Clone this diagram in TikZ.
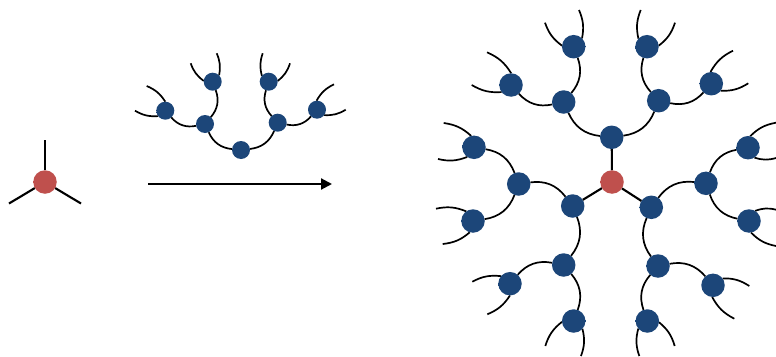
\documentclass[tikz,border=0pt]{standalone}
\usetikzlibrary{arrows.meta}
\pgfdeclarelayer{bg}
\pgfsetlayers{bg,main}
\definecolor{ballB}{HTML}{1C4679}
\definecolor{ballBd}{HTML}{142F55}
\definecolor{ballR}{HTML}{BF504D}
\definecolor{ballRd}{HTML}{8E3B39}
\pgfdeclareradialshading{blueball}{\pgfpoint{0bp}{0bp}}{color(0bp)=(ballB); color(40bp)=(ballB); color(50bp)=(ballBd)}
\pgfdeclareradialshading{redball}{\pgfpoint{0bp}{0bp}}{color(0bp)=(ballR); color(41bp)=(ballR); color(50bp)=(ballRd)}
\tikzset{
  ballnode/.style={circle,inner sep=0pt,outer sep=0pt},
  bluesmall/.style={ballnode,minimum size=18pt,shading=blueball},
  bluebig/.style={ballnode,minimum size=23.5pt,shading=blueball},
  redcore/.style={ballnode,minimum size=23.5pt,shading=redball},
  arm/.style={line width=2.1pt,black},
  curl/.style={line width=1.7pt,black,bend angle=30},
  tipcurl/.style={line width=1.7pt,black,bend angle=17},
  flow/.style={line width=2.1pt,black,-{Triangle[length=11pt,width=11pt]}},
}
\begin{document}
\begin{tikzpicture}[x=1pt,y=-1pt]
\useasboundingbox (0,0) rectangle (776,356);
% monomer
\node[redcore] (m) at (45,182) {};
\coordinate (ma) at (45,140);
\coordinate (mb) at (9,203.5);
\coordinate (mc) at (81,203.5);
% wedge
\node[bluesmall] (A) at (241,150) {};
\node[bluesmall] (B) at (205,124) {};
\node[bluesmall] (C) at (277.7,122.7) {};
\node[bluesmall] (D) at (212.7,81.7) {};
\node[bluesmall] (E) at (165.3,110.7) {};
\node[bluesmall] (F) at (268.7,81.7) {};
\node[bluesmall] (G) at (317,109.7) {};
\coordinate (D1) at (190.7,63.3);
\coordinate (D2) at (216.7,53.3);
\coordinate (F1) at (290,63.3);
\coordinate (F2) at (262.7,53.3);
\coordinate (E1) at (146.7,86);
\coordinate (E2) at (135,110.7);
\coordinate (G1) at (334,84.3);
\coordinate (G2) at (345.7,109.7);
% arrow
\coordinate (aS) at (148,184);
\coordinate (aE) at (332,184);
% dendrimer
\node[redcore] (core) at (612,182) {};
\node[bluebig] (T1) at (611.7,137.3) {};
\node[bluebig] (T2) at (563.7,102) {};
\node[bluebig] (T3) at (658.7,100.7) {};
\node[bluebig] (T4) at (573.7,46.7) {};
\node[bluebig] (T5) at (511,85) {};
\node[bluebig] (T6) at (647,46.7) {};
\node[bluebig] (T7) at (711.3,83.7) {};
\node[bluebig] (L1) at (572.7,206) {};
\node[bluebig] (L2) at (563.7,265) {};
\node[bluebig] (L3) at (518.7,184) {};
\node[bluebig] (L4) at (474,147.3) {};
\node[bluebig] (L5) at (473,221) {};
\node[bluebig] (L6) at (510,283.7) {};
\node[bluebig] (L7) at (573.7,321) {};
\node[bluebig] (R1) at (651.3,207.3) {};
\node[bluebig] (R2) at (658,266) {};
\node[bluebig] (R3) at (706,183.3) {};
\node[bluebig] (R4) at (748,147.7) {};
\node[bluebig] (R5) at (749,221) {};
\node[bluebig] (R6) at (713,285.3) {};
\node[bluebig] (R7) at (647.3,321) {};
\coordinate (T4a) at (545,22.7);
\coordinate (T4b) at (579,10);
\coordinate (T6a) at (675,22.7);
\coordinate (T6b) at (640.7,10);
\coordinate (T5a) at (487,52.3);
\coordinate (T5b) at (471.7,85);
\coordinate (T7a) at (733,50.7);
\coordinate (T7b) at (748.3,83.3);
\coordinate (L4a) at (443.7,123);
\coordinate (L4b) at (438,159);
\coordinate (L5a) at (436,208.7);
\coordinate (L5b) at (442.7,244);
\coordinate (L6a) at (472.3,281.7);
\coordinate (L6b) at (487.3,314.3);
\coordinate (L7a) at (545.3,346);
\coordinate (L7b) at (581,356);
\coordinate (R4a) at (776,122.7);
\coordinate (R4b) at (776,158);
\coordinate (R5a) at (776,209.7);
\coordinate (R5b) at (776,246);
\coordinate (R6a) at (749.3,286);
\coordinate (R6b) at (734.3,318.7);
\coordinate (R7a) at (674.7,346);
\coordinate (R7b) at (639.3,356);
\begin{pgfonlayer}{bg}
\draw[arm] (m) -- (ma);
\draw[arm] (m) -- (mb);
\draw[arm] (m) -- (mc);
\draw[flow] (aS) -- (aE);
\draw[curl] (A) to[bend left] (B);
\draw[curl] (A) to[bend right] (C);
\draw[curl] (B) to[bend right] (D);
\draw[curl] (B) to[bend left] (E);
\draw[curl] (C) to[bend left] (F);
\draw[curl] (C) to[bend right] (G);
\draw[tipcurl] (D.175) to[bend left] (D1);
\draw[tipcurl] (D.45) to[bend right] (D2);
\draw[tipcurl] (F.5) to[bend right] (F1);
\draw[tipcurl] (F.139) to[bend left] (F2);
\draw[tipcurl] (E.90) to[bend right] (E1);
\draw[tipcurl] (E.217) to[bend left] (E2);
\draw[tipcurl] (G.93) to[bend left] (G1);
\draw[tipcurl] (G.-37) to[bend right] (G2);
\draw[arm] (core) -- (T1);
\draw[arm] (core) -- (L1);
\draw[arm] (core) -- (R1);
\draw[curl] (T1) to[bend left] (T2);
\draw[curl] (T1) to[bend right] (T3);
\draw[curl] (T2) to[bend right] (T4);
\draw[curl] (T2) to[bend left] (T5);
\draw[curl] (T3) to[bend left] (T6);
\draw[curl] (T3) to[bend right] (T7);
\draw[tipcurl] (T4.175) to[bend left] (T4a);
\draw[tipcurl] (T4.45) to[bend right] (T4b);
\draw[tipcurl] (T6.5) to[bend right] (T6a);
\draw[tipcurl] (T6.137) to[bend left] (T6b);
\draw[tipcurl] (T5.89) to[bend right] (T5a);
\draw[tipcurl] (T5.217) to[bend left] (T5b);
\draw[tipcurl] (T7.94) to[bend left] (T7a);
\draw[tipcurl] (T7.-37) to[bend right] (T7b);
\draw[curl] (L1) to[bend left] (L2);
\draw[curl] (L1) to[bend right] (L3);
\draw[curl] (L3) to[bend right] (L4);
\draw[curl] (L3) to[bend left] (L5);
\draw[tipcurl] (L4.104) to[bend right] (L4a);
\draw[tipcurl] (L4.235) to[bend left] (L4b);
\draw[tipcurl] (L5.125) to[bend right] (L5a);
\draw[tipcurl] (L5.254) to[bend left] (L5b);
\draw[curl] (L2) to[bend left] (L7);
\draw[curl] (L2) to[bend right] (L6);
\draw[tipcurl] (L6.140) to[bend right] (L6a);
\draw[tipcurl] (L6.270) to[bend left] (L6b);
\draw[tipcurl] (L7.184) to[bend right] (L7a);
\draw[tipcurl] (L7.318) to[bend left] (L7b);
\draw[curl] (R1) to[bend right] (R2);
\draw[curl] (R1) to[bend left] (R3);
\draw[curl] (R3) to[bend left] (R4);
\draw[curl] (R3) to[bend right] (R5);
\draw[tipcurl] (R4.79) to[bend left] (R4a);
\draw[tipcurl] (R4.-57) to[bend right] (R4b);
\draw[tipcurl] (R5.59) to[bend left] (R5a);
\draw[tipcurl] (R5.-80) to[bend right] (R5b);
\draw[curl] (R2) to[bend right] (R7);
\draw[curl] (R2) to[bend left] (R6);
\draw[tipcurl] (R6.36) to[bend left] (R6a);
\draw[tipcurl] (R6.-94) to[bend right] (R6b);
\draw[tipcurl] (R7.-6) to[bend left] (R7a);
\draw[tipcurl] (R7.-140) to[bend right] (R7b);
\end{pgfonlayer}
\end{tikzpicture}
\end{document}
